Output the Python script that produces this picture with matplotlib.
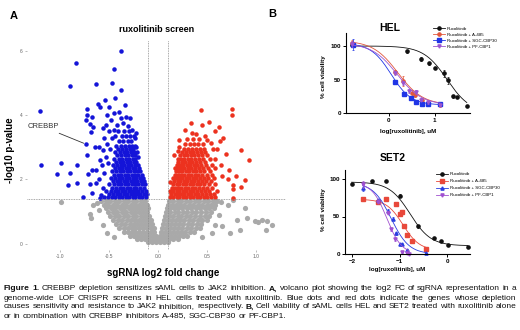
import matplotlib.pyplot as plt
import numpy as np

plt.rcParams['font.family'] = ['Liberation Sans', 'DejaVu Sans']

# ---------------- panel A: volcano plot ----------------
# scattered blue hits (log2 FC, -log10 p)
blue_x = [-0.38, -0.84, -0.45, -0.90, -0.63, -0.47, -0.38, -0.44, -1.21, -0.73, -0.54, -0.73,
          -1.20, -0.99, -1.03, -0.90, -0.92, -0.83, -0.83, -0.73, -0.74, -0.77, -0.72, -0.70,
          -0.69, -0.70, -0.74, -0.66, -0.61, -0.59, -0.67, -0.64, -0.63, -0.63, -0.68, -0.59,
          -0.59, -0.68, -0.58, -0.56, -0.60, -0.55, -0.57, -0.53, -0.56, -0.52, -0.55, -0.50,
          -0.53, -0.48, -0.45, -0.40, -0.50, -0.42, -0.36, -0.31, -0.27, -0.24, -0.22, -0.20,
          -0.33, -0.47, -0.49, -0.51, -0.29, -0.38, -0.45, -0.22, -0.34, -0.56, -0.60, -0.52]
blue_y = [6.00, 5.61, 5.43, 4.91, 4.97, 5.01, 4.78, 4.53, 4.12, 4.19, 4.47, 4.00,
          2.45, 2.52, 2.17, 2.21, 1.83, 1.88, 2.45, 2.76, 3.10, 1.45, 2.17, 1.86,
          3.46, 3.73, 3.85, 3.64, 4.35, 4.25, 3.93, 3.02, 2.30, 1.88, 1.57, 2.61,
          1.43, 2.30, 1.52, 1.75, 2.00, 2.20, 2.45, 2.70, 2.90, 3.10, 3.30, 3.50,
          3.70, 3.85, 4.05, 4.10, 4.25, 3.70, 3.75, 3.65, 3.55, 3.30, 3.00, 2.70,
          3.95, 3.30, 2.95, 2.50, 3.90, 3.90, 3.55, 3.45, 4.30, 3.60, 3.00, 4.00]
# dense blue core, row by row: (-log10 p, [log2 FC ...])
blue_rows = [
    (1.45, [-0.55, -0.51, -0.47, -0.44, -0.40, -0.37, -0.33, -0.30, -0.26, -0.23, -0.19, -0.16, -0.12]),
    (1.55, [-0.50, -0.46, -0.42, -0.39, -0.35, -0.32, -0.28, -0.25, -0.21, -0.18, -0.14, -0.11]),
    (1.65, [-0.53, -0.48, -0.44, -0.41, -0.37, -0.34, -0.30, -0.27, -0.23, -0.20, -0.16, -0.12]),
    (1.75, [-0.47, -0.43, -0.39, -0.36, -0.32, -0.29, -0.25, -0.22, -0.18, -0.14]),
    (1.85, [-0.50, -0.45, -0.41, -0.38, -0.34, -0.31, -0.27, -0.24, -0.20, -0.16, -0.13]),
    (1.95, [-0.46, -0.42, -0.39, -0.35, -0.32, -0.28, -0.25, -0.21, -0.17, -0.14]),
    (2.05, [-0.48, -0.44, -0.40, -0.37, -0.33, -0.30, -0.26, -0.22, -0.18, -0.15]),
    (2.15, [-0.45, -0.41, -0.38, -0.34, -0.31, -0.27, -0.24, -0.20, -0.16]),
    (2.25, [-0.47, -0.43, -0.39, -0.36, -0.32, -0.29, -0.25, -0.21, -0.18]),
    (2.35, [-0.44, -0.40, -0.37, -0.33, -0.30, -0.26, -0.23, -0.19]),
    (2.45, [-0.46, -0.42, -0.38, -0.35, -0.31, -0.28, -0.24, -0.20]),
    (2.55, [-0.43, -0.39, -0.36, -0.32, -0.29, -0.25, -0.22]),
    (2.65, [-0.45, -0.40, -0.37, -0.33, -0.30, -0.26, -0.23]),
    (2.75, [-0.42, -0.38, -0.34, -0.31, -0.27, -0.24]),
    (2.85, [-0.44, -0.39, -0.35, -0.32, -0.28, -0.25, -0.21]),
    (2.95, [-0.41, -0.37, -0.33, -0.29, -0.26]),
    (3.05, [-0.43, -0.38, -0.34, -0.30, -0.27, -0.23]),
    (3.20, [-0.40, -0.36, -0.31, -0.28]),
    (3.35, [-0.44, -0.37, -0.33, -0.29, -0.25]),
    (3.50, [-0.41, -0.35, -0.30]),
]

red_x = [0.44, 0.76, 0.76, 0.34, 0.45, 0.52, 0.62, 0.35, 0.85, 0.93, 0.70, 0.67, 0.63,
         0.80, 0.89, 0.77, 0.77, 0.77, 0.73, 0.22, 0.22, 0.16, 0.12, 0.50, 0.54, 0.58,
         0.72, 0.85, 0.13, 0.21, 0.65, 0.60, 0.66, 0.58, 0.48, 0.28]
red_y = [4.16, 4.18, 4.00, 3.75, 3.70, 3.77, 3.64, 3.44, 2.92, 2.61, 2.80, 3.28, 3.20,
         2.11, 1.99, 1.83, 1.70, 1.42, 2.30, 3.23, 3.02, 2.76, 1.93, 3.23, 3.12, 3.49,
         2.01, 1.76, 1.60, 2.87, 2.45, 2.95, 2.10, 2.65, 3.35, 3.55]
red_rows = [
    (1.45, [0.12, 0.15, 0.19, 0.22, 0.26, 0.29, 0.33, 0.36, 0.40, 0.43, 0.47, 0.50, 0.54, 0.58]),
    (1.55, [0.13, 0.17, 0.20, 0.24, 0.27, 0.31, 0.34, 0.38, 0.41, 0.45, 0.49, 0.53, 0.57]),
    (1.65, [0.12, 0.15, 0.19, 0.22, 0.26, 0.29, 0.33, 0.36, 0.40, 0.44, 0.48, 0.52, 0.60]),
    (1.75, [0.14, 0.17, 0.21, 0.24, 0.28, 0.31, 0.35, 0.38, 0.42, 0.46, 0.50, 0.55]),
    (1.85, [0.15, 0.19, 0.22, 0.26, 0.29, 0.33, 0.36, 0.40, 0.43, 0.47, 0.52, 0.58]),
    (1.95, [0.16, 0.20, 0.23, 0.27, 0.30, 0.34, 0.37, 0.41, 0.45, 0.49, 0.54]),
    (2.05, [0.15, 0.18, 0.22, 0.25, 0.29, 0.32, 0.36, 0.39, 0.43, 0.47, 0.51, 0.57]),
    (2.15, [0.17, 0.20, 0.24, 0.27, 0.31, 0.34, 0.38, 0.41, 0.45, 0.50, 0.55]),
    (2.25, [0.18, 0.22, 0.25, 0.29, 0.32, 0.36, 0.39, 0.43, 0.47, 0.53]),
    (2.35, [0.17, 0.20, 0.24, 0.27, 0.31, 0.34, 0.38, 0.42, 0.46, 0.51, 0.58]),
    (2.45, [0.19, 0.23, 0.26, 0.30, 0.33, 0.37, 0.40, 0.44, 0.49, 0.55]),
    (2.55, [0.21, 0.25, 0.28, 0.32, 0.35, 0.39, 0.43, 0.48]),
    (2.65, [0.20, 0.24, 0.27, 0.31, 0.34, 0.38, 0.42, 0.46, 0.53]),
    (2.75, [0.23, 0.27, 0.30, 0.34, 0.37, 0.41, 0.45, 0.50]),
    (2.85, [0.25, 0.29, 0.33, 0.36, 0.40, 0.44, 0.48]),
    (2.95, [0.27, 0.31, 0.35, 0.39, 0.43, 0.47, 0.56]),
    (3.10, [0.28, 0.33, 0.37, 0.41, 0.46]),
    (3.25, [0.30, 0.36, 0.42]),
    (3.40, [0.39]),
]

gray_x = [-0.99, -0.70, -0.66, -0.62, -0.69, -0.56, -0.52, -0.45, -0.60, 0.65, 0.72, 0.77, 0.89,
          0.81, 0.91, 0.99, 1.02, 0.74, 0.84, 1.06, 1.12, 1.17, 1.11, 0.62, 0.58, 0.55, 0.45, 0.66]
gray_y = [1.30, 0.93, 1.20, 1.27, 0.80, 0.60, 0.35, 0.20, 1.05, 1.30, 1.20, 1.37, 1.10,
          0.75, 0.80, 0.72, 0.69, 0.33, 0.43, 0.75, 0.72, 0.60, 0.43, 0.90, 0.60, 0.35, 0.20, 0.55]
gray_rows = [
    (1.34, [-0.58, -0.53, -0.49, -0.44, -0.40, -0.35, -0.31, -0.26, -0.22, -0.17, -0.13,
            0.11, 0.15, 0.20, 0.24, 0.29, 0.33, 0.38, 0.42, 0.47, 0.51, 0.56, 0.60]),
    (1.22, [-0.55, -0.51, -0.46, -0.42, -0.37, -0.33, -0.28, -0.24, -0.19, -0.15, -0.11,
            0.10, 0.14, 0.18, 0.23, 0.27, 0.32, 0.36, 0.41, 0.45, 0.50, 0.54, 0.58]),
    (1.10, [-0.53, -0.48, -0.44, -0.39, -0.35, -0.30, -0.26, -0.21, -0.17, -0.13, -0.10,
            0.09, 0.12, 0.16, 0.21, 0.25, 0.30, 0.34, 0.39, 0.43, 0.48, 0.52, 0.57]),
    (0.98, [-0.51, -0.46, -0.42, -0.37, -0.33, -0.28, -0.24, -0.19, -0.15, -0.11,
            0.08, 0.12, 0.17, 0.21, 0.26, 0.30, 0.35, 0.39, 0.44, 0.49, 0.54]),
    (0.86, [-0.49, -0.44, -0.40, -0.35, -0.31, -0.26, -0.22, -0.17, -0.13, -0.09,
            0.07, 0.11, 0.15, 0.20, 0.24, 0.29, 0.33, 0.38, 0.43, 0.48, 0.52]),
    (0.74, [-0.46, -0.41, -0.37, -0.32, -0.28, -0.23, -0.19, -0.15, -0.11, -0.07,
            0.06, 0.10, 0.14, 0.18, 0.23, 0.27, 0.32, 0.36, 0.41, 0.45, 0.50]),
    (0.62, [-0.43, -0.38, -0.34, -0.29, -0.25, -0.21, -0.17, -0.13, -0.09, -0.06,
            0.05, 0.09, 0.13, 0.17, 0.22, 0.26, 0.31, 0.35, 0.40, 0.44]),
    (0.50, [-0.40, -0.35, -0.31, -0.27, -0.23, -0.19, -0.15, -0.11, -0.07, -0.04,
            0.04, 0.08, 0.12, 0.16, 0.21, 0.25, 0.30, 0.34, 0.39, 0.43]),
    (0.38, [-0.35, -0.31, -0.27, -0.23, -0.19, -0.15, -0.11, -0.07, -0.04,
            0.03, 0.07, 0.11, 0.15, 0.19, 0.24, 0.28, 0.33, 0.37]),
    (0.26, [-0.29, -0.25, -0.21, -0.17, -0.13, -0.09, -0.05, -0.02,
            0.02, 0.05, 0.09, 0.13, 0.17, 0.22, 0.26, 0.30]),
    (0.15, [-0.21, -0.17, -0.13, -0.09, -0.05, -0.01, 0.03, 0.07, 0.11, 0.15, 0.20]),
    (0.05, [-0.10, -0.06, -0.02, 0.02, 0.06, 0.10]),
]

crebbp = (-0.74, 3.10)
fc_cut = 0.1
p_cut = 1.4

# ---------------- panel B: dose response ----------------
labels = ['Ruxolitinib', 'Ruxolitinib + A-485', 'Ruxolitinib + SGC-CBP30', 'Ruxolitinib + PF-CBP1']

hel_x = [[-0.80, 0.40, 0.70, 0.87, 1.01, 1.20, 1.30, 1.41, 1.49, 1.70],
         [-0.80, 0.14, 0.32, 0.50, 0.57, 0.72, 0.85, 1.12],
         [-0.78, 0.14, 0.33, 0.48, 0.60, 0.72, 0.85, 1.12],
         [-0.80, 0.14, 0.32, 0.45, 0.60, 0.70, 0.85, 1.12]]
hel_y = [[101, 92, 81, 74, 67, 59, 49, 25, 24, 10],
         [104, 61, 48, 30, 27, 19, 15, 12],
         [102, 47, 29, 23, 16, 14, 14, 14],
         [103, 60, 45, 33, 31, 20, 16, 12]]
hel_err = [[0, 2, 3, 2, 2, 5, 5, 2, 2, 1],
           [5, 3, 7, 4, 3, 2, 2, 2],
           [8, 2, 2, 2, 2, 1, 1, 1],
           [4, 3, 3, 3, 3, 2, 2, 2]]
# four-parameter fits: top, bottom, logIC50, hill
hel_fit = [(100, 0, 1.27, 1.7), (108, 12, 0.20, 1.6), (104, 12, 0.05, 2.0), (104, 12, 0.18, 1.6)]

set2_x = [[-2.01, -1.59, -1.29, -1.00, -0.61, -0.27, -0.12, 0.02, 0.43],
          [-1.77, -1.45, -1.28, -1.08, -1.00, -0.96, -0.91, -0.84, -0.75, -0.45],
          [-1.77, -1.45, -1.25, -1.15, -1.08, -1.00, -0.95, -0.85, -0.45],
          [-1.77, -1.45, -1.25, -1.18, -1.10, -0.95, -0.85, -0.80]]
set2_y = [[94, 97, 97, 78, 37, 22, 17, 12, 10],
          [74, 69, 74, 67, 54, 56, 37, 26, 17, 7],
          [88, 72, 58, 47, 28, 13, 14, 6, 1],
          [93, 70, 55, 33, 20, 3, 1, 0]]
set2_err = [[1, 1, 1, 2, 2, 1, 1, 1, 1],
            [1, 2, 1, 2, 2, 2, 2, 1, 1, 1],
            [4, 2, 2, 2, 2, 1, 1, 1, 1],
            [5, 2, 2, 2, 2, 1, 1, 1]]
set2_fit = [(96, 11, -0.78, 2.0), (73, 5, -0.93, 2.5), (95, 0, -1.18, 2.3), (95, 0, -1.27, 2.8)]

hel_colors = ['#111111', '#e2583e', '#1f35e6', '#9b55d0']
set2_colors = ['#111111', '#e8483a', '#2a3ee0', '#a050d0']
hel_markers = ['o', 'o', 's', 'v']
set2_markers = ['o', 's', '^', 'v']


def logistic(x, top, bottom, logic50, hill):
    return bottom + (top - bottom) / (1 + 10 ** (hill * (x - logic50)))


W, H = 520, 330
fig = plt.figure(figsize=(W / 100, H / 100), dpi=100)


def box(left, top, right, bottom):
    return [left / W, 1 - bottom / H, (right - left) / W, (bottom - top) / H]


# ---- volcano ----
ax = fig.add_axes(box(27, 40, 286, 250))
gx = gray_x + [x for y, xs in gray_rows for x in xs]
gy = gray_y + [y for y, xs in gray_rows for _ in xs]
bx = blue_x + [x for y, xs in blue_rows for x in xs]
by = blue_y + [y for y, xs in blue_rows for _ in xs]
rx = red_x + [x for y, xs in red_rows for x in xs]
ry = red_y + [y for y, xs in red_rows for _ in xs]
ax.scatter(gx, gy, s=14, color='#a9a9a9', linewidths=0)
ax.scatter(bx, by, s=10.5, color='#1414d8', linewidths=0)
ax.scatter(rx, ry, s=10.5, color='#ec321f', linewidths=0)
for v in (-fc_cut, fc_cut):
    ax.axvline(v, color='#8c8c8c', lw=0.6, ls=(0, (1, 1)))
ax.axhline(p_cut, color='#8c8c8c', lw=0.6, ls=(0, (1, 1)))
ax.set_xlim(-1.34, 1.31)
ax.set_ylim(-0.19, 6.33)
ax.set_xticks([-1.0, -0.5, 0.0, 0.5, 1.0])
ax.set_xticklabels(['-1.0', '-0.5', '0.0', '0.5', '1.0'])
ax.set_yticks([0, 2, 4, 6])
for s in ax.spines.values():
    s.set_visible(False)
ax.tick_params(labelsize=3.5, labelcolor='#666666', color='#888888', length=1.5, width=0.4, pad=1.5)
ax.annotate('CREBBP', xy=crebbp, xytext=(28, H - 127), textcoords='figure pixels',
            fontsize=5.5, color='#333333', va='center', ha='left',
            arrowprops=dict(arrowstyle='-', color='#333333', lw=0.6, shrinkA=0, shrinkB=1.5))
ax.set_title('ruxolitinib screen', fontsize=6.5, fontweight='bold', pad=6)
fig.text(10 / W, 1 - 150 / H, '-log10 p-value', rotation=90, fontsize=7, fontweight='bold',
         ha='center', va='center')
fig.text(163 / W, 1 - 273 / H, 'sgRNA log2 fold change', fontsize=7, fontweight='bold',
         ha='center', va='center')
fig.text(14 / W, 1 - 16 / H, 'A', fontsize=8, fontweight='bold', ha='center', va='center')
fig.text(272 / W, 1 - 14 / H, 'B', fontsize=8, fontweight='bold', ha='center', va='center')


def dose_panel(rect, xs, ys, errs, fits, colors, markers, xlim, ylim, xticks, title,
               title_xy, ylab_xy, xlab_xy, leg_xy, leg_spacing):
    a = fig.add_axes(box(*rect))
    handles = []
    for i in range(len(xs)):
        x = np.array(xs[i])
        xc = np.linspace(x.min(), x.max(), 200)
        a.plot(xc, logistic(xc, *fits[i]), color=colors[i], lw=0.6, clip_on=False)
        a.errorbar(xs[i], ys[i], yerr=errs[i], fmt='none', ecolor=colors[i], elinewidth=0.5,
                   capsize=1, capthick=0.5, clip_on=False)
        a.plot(xs[i], ys[i], ls='none', marker=markers[i], ms=2.3, color=colors[i],
               mec=colors[i], clip_on=False)
        h, = a.plot([], [], color=colors[i], lw=0.6, marker=markers[i], ms=2.3)
        handles.append(h)
    a.set_xlim(*xlim)
    a.set_ylim(*ylim)
    a.set_xticks(xticks)
    a.set_yticks([0, 50, 100])
    a.spines['top'].set_visible(False)
    a.spines['right'].set_visible(False)
    for s in ('left', 'bottom'):
        a.spines[s].set_linewidth(0.8)
    a.tick_params(labelsize=4.5, length=2, width=0.7, pad=1.5)
    for t in a.get_xticklabels() + a.get_yticklabels():
        t.set_fontweight('bold')
    fig.text(title_xy[0] / W, 1 - title_xy[1] / H, title, fontsize=7.5, fontweight='bold',
             ha='center', va='center')
    fig.text(ylab_xy[0] / W, 1 - ylab_xy[1] / H, '% cell viability', rotation=90, fontsize=4.5,
             fontweight='bold', ha='center', va='center')
    fig.text(xlab_xy[0] / W, 1 - xlab_xy[1] / H, 'log[ruxolitinib], uM', fontsize=4.5,
             fontweight='bold', ha='center', va='center')
    a.legend(handles, labels, loc='upper left', bbox_to_anchor=(leg_xy[0] / W, 1 - leg_xy[1] / H),
             bbox_transform=fig.transFigure, frameon=False, fontsize=3.2, handlelength=2.6,
             handletextpad=0.5, labelspacing=leg_spacing, borderpad=0, borderaxespad=0)
    return a


dose_panel((346, 32.6, 470, 113), hel_x, hel_y, hel_err, hel_fit, hel_colors, hel_markers,
           (-0.93, 1.77), (0, 120), [0, 1], 'HEL', (390, 28), (323, 77), (408, 132),
           (433, 26.5), 0.45)
dose_panel((345, 170, 470, 254), set2_x, set2_y, set2_err, set2_fit, set2_colors, set2_markers,
           (-2.15, 0.48), (0, 112), [-2, -1, 0], 'SET2', (393, 158), (324, 210), (397, 270),
           (436, 172), 0.65)

# ---- caption, justified to the figure width ----
caption = [
    [('Figure 1.', True), ('CREBBP depletion sensitizes sAML cells to JAK2 inhibition.', False),
     ('A,', True), ('volcano plot showing the log2 FC of sgRNA representation in a', False)],
    [('genome-wide LOF CRISPR screens in HEL cells treated with ruxolitinib. Blue dots and red dots '
      'indicate the genes whose depletion', False)],
    [('causes sensitivity and resistance to JAK2 inhibition, respectively.', False), ('B,', True),
     ('Cell viability of sAML cells HEL and SET2 treated with ruxolitinib alone', False)],
    [('or in combination with CREBBP inhibitors A-485, SGC-CBP30 or PF-CBP1.', False)],
]
cap_y = [289, 298, 307, 316]
cap_size = 6.05
x0, x1 = 4, 516
renderer = fig.canvas.get_renderer()
for li, segs in enumerate(caption):
    words = [(w, b) for t, b in segs for w in t.split()]
    objs = [fig.text(0, 1 - cap_y[li] / H, w, fontsize=cap_size, color='#111111', va='center',
                     fontweight='bold' if b else 'normal') for w, b in words]
    widths = [o.get_window_extent(renderer).width for o in objs]
    if li == len(caption) - 1:
        gap = cap_size * 0.28 * 100 / 72
    else:
        gap = (x1 - x0 - sum(widths)) / (len(objs) - 1)
    x = x0
    for o, w in zip(objs, widths):
        o.set_x(x / W)
        x += w + gap

fig.savefig('out.png', dpi=100)
